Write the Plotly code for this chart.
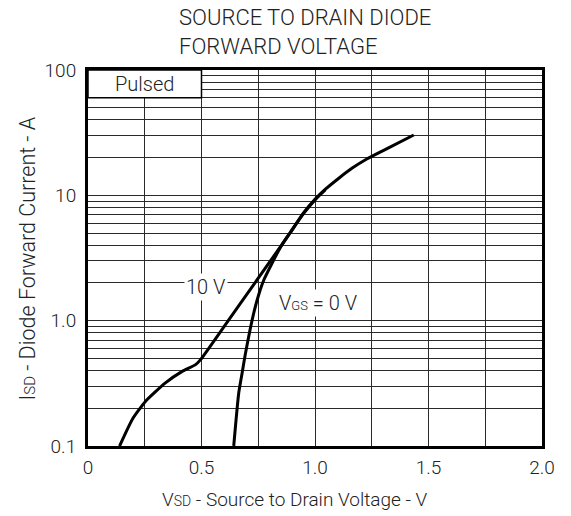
import plotly.graph_objects as go

# ---- data ----
v_10v = [0.139, 0.195, 0.253, 0.341, 0.415, 0.474, 0.496, 0.600, 0.730, 0.848, 0.892, 0.951, 1.000, 1.046, 1.105, 1.164, 1.230, 1.311, 1.435]
i_10v = [0.100, 0.163, 0.227, 0.319, 0.394, 0.446, 0.489, 0.900, 1.94, 3.9, 5.1, 7.3, 9.3, 11.2, 13.7, 16.5, 19.6, 23.3, 30.3]

v_0v = [0.642, 0.664, 0.679, 0.694, 0.730, 0.752, 0.775, 0.848, 0.892, 0.951, 1.000, 1.046]
i_0v = [0.100, 0.265, 0.383, 0.553, 1.15, 1.61, 2.12, 3.85, 5.05, 7.2, 9.2, 11.1]

x_ticks = [0, 0.25, 0.5, 0.75, 1.0, 1.25, 1.5, 1.75, 2.0]
x_labels = ["0", "", "0.5", "", "1.0", "", "1.5", "", "2.0"]
y_ticks = [0.1, 1, 10, 100]
y_labels = ["0.1", "1.0", "10", "100"]
y_minor = [m * d for d in (0.1, 1, 10) for m in range(2, 10)]

FONT = "Roboto"
GRID = "#2a2a2a"
W, H = 571, 516
L, R, T, B = 88, 29, 70, 70
PW, PH = W - L - R, H - T - B

fig = go.Figure()
fig.add_trace(go.Scatter(x=v_10v, y=i_10v, mode="lines",
                         line=dict(color="black", width=3, shape="spline", smoothing=0.5),
                         showlegend=False, hoverinfo="skip"))
fig.add_trace(go.Scatter(x=v_0v, y=i_0v, mode="lines",
                         line=dict(color="black", width=3, shape="spline", smoothing=0.6),
                         showlegend=False, hoverinfo="skip"))

fig.update_layout(
    width=W, height=H,
    margin=dict(l=L, r=R, t=T, b=B),
    paper_bgcolor="white", plot_bgcolor="white",
    font=dict(family=FONT, size=18, color="#222", weight=300),
    xaxis=dict(range=[0, 2], tickvals=x_ticks, ticktext=x_labels,
               showgrid=True, gridcolor=GRID, gridwidth=1, zeroline=False,
               showline=True, linecolor="black", linewidth=3, mirror=True,
               ticks="", ticklabelstandoff=2,
               tickfont=dict(family=FONT, size=19, color="#222", weight=300)),
    yaxis=dict(type="log", range=[-1, 2], tickvals=y_ticks, ticktext=y_labels,
               showgrid=True, gridcolor=GRID, gridwidth=1, zeroline=False,
               showline=True, linecolor="black", linewidth=3, mirror=True,
               ticks="", ticklabelstandoff=5,
               minor=dict(tickvals=y_minor, showgrid=True, gridcolor=GRID, gridwidth=1, ticks=""),
               tickfont=dict(family=FONT, size=19, color="#222", weight=300)),
)

# Pulsed box
fig.add_shape(type="rect", xref="x", yref="y", x0=0, x1=0.5, y0=60, y1=100,
              fillcolor="white", line=dict(color="black", width=1.5), layer="above")
fig.add_annotation(x=0.25, y=1.892, xref="x", yref="y", text="Pulsed", showarrow=False,
                   font=dict(family=FONT, size=20, color="#222", weight=300))

# curve labels
fig.add_annotation(x=0.522, y=0.267, xref="x", yref="y", text="10 V", showarrow=False,
                   bgcolor="white", borderpad=1,
                   font=dict(family=FONT, size=20, color="#222", weight=300))
fig.add_annotation(x=1.015, y=0.143, xref="x", yref="y",
                   text="V<span style='font-size:13px'>GS</span> = 0 V", showarrow=False,
                   bgcolor="white", borderpad=1,
                   font=dict(family=FONT, size=20, color="#222", weight=300))

# title
fig.add_annotation(x=(177 - L) / PW, y=1 + (T - 3) / PH, xref="paper", yref="paper",
                   xanchor="left", yanchor="top", align="left", showarrow=False,
                   text="SOURCE TO DRAIN DIODE<br>FORWARD VOLTAGE",
                   font=dict(family=FONT, size=22, color="#222", weight=300))

# axis titles
fig.add_annotation(x=(295 - L) / PW, y=-(499 - (H - B)) / PH, xref="paper", yref="paper",
                   xanchor="center", yanchor="middle", showarrow=False,
                   text="V<span style='font-size:14px'>SD</span> - Source to Drain Voltage - V",
                   font=dict(family=FONT, size=19, color="#222", weight=300))
fig.add_annotation(x=-(L - 27) / PW, y=1 - (258.5 - T) / PH, xref="paper", yref="paper",
                   xanchor="center", yanchor="middle", textangle=-90, showarrow=False,
                   text="I<span style='font-size:15px'>SD</span> - Diode Forward Current - A",
                   font=dict(family=FONT, size=21.5, color="#222", weight=300))

fig.write_html("out.html", config={"displayModeBar": False},
               post_script="document.body.style.margin='0';")
